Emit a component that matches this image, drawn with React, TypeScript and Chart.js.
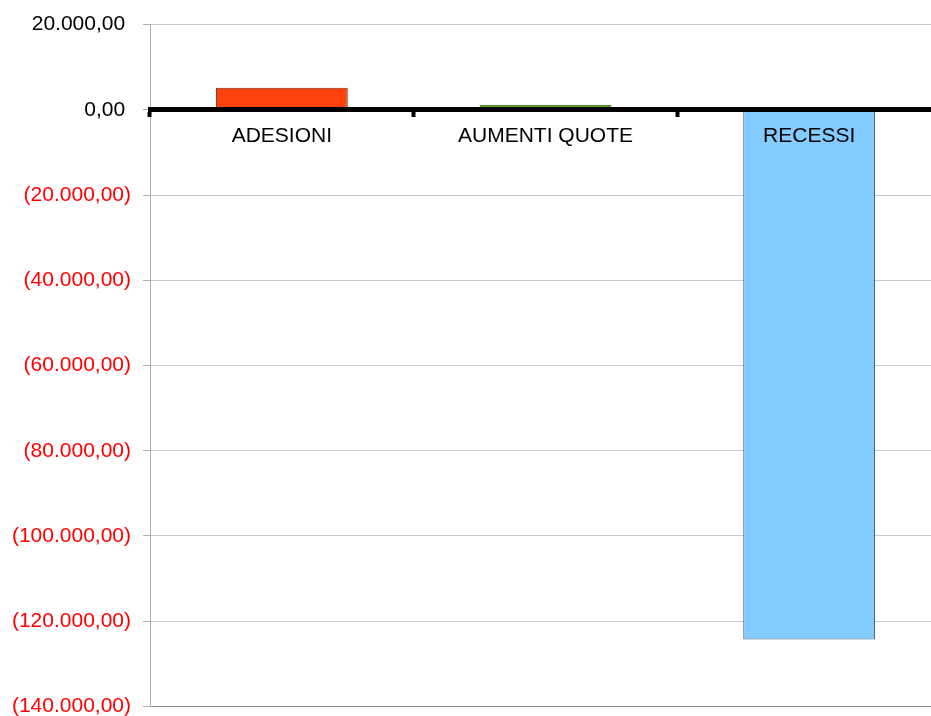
import React, { useEffect, useRef } from "react";
import { Chart, registerables } from "chart.js";

Chart.register(...registerables);

const categories = ["ADESIONI", "AUMENTI QUOTE", "RECESSI"];
const values = [5200, 1200, -124300];
const barColors = ["#ff420e", "#579d1c", "#83caff"];
const barBorders = ["#7a2a10", "#35601a", "#3d5670"];
const yMin = -140000;
const yMax = 20000;
const yStep = 20000;

function fmt(v: number): string {
  const abs = Math.abs(v).toFixed(2);
  const [intPart, dec] = abs.split(".");
  const withDots = intPart.replace(/\B(?=(\d{3})+(?!\d))/g, ".");
  const s = withDots + "," + dec;
  return v < 0 ? "(" + s + ")" : s + " ";
}

export default function App() {
  const ref = useRef<HTMLCanvasElement | null>(null);

  useEffect(() => {
    if (!ref.current) return;
    const font = { family: "'Liberation Sans', Arial, sans-serif", size: 21 };
    const chart = new Chart(ref.current, {
      type: "bar",
      data: {
        labels: categories,
        datasets: [
          {
            data: values,
            backgroundColor: barColors,
            borderColor: barBorders,
            borderWidth: 1,
            borderSkipped: false,
            categoryPercentage: 1,
            barPercentage: 0.5,
          },
        ],
      },
      options: {
        animation: false,
        responsive: false,
        maintainAspectRatio: false,
        layout: { padding: { top: 24, bottom: 0, left: 0, right: 0 } },
        plugins: { legend: { display: false }, tooltip: { enabled: false } },
        scales: {
          x: {
            position: { y: 0 } as any,
            z: 1,
            grid: {
              z: 1,
              offset: true,
              drawOnChartArea: false,
              drawTicks: true,
              tickLength: 5,
              tickWidth: 4,
              tickColor: "#000000",
            } as any,
            border: { display: true, color: "#000000", width: 5, z: 1 } as any,
            ticks: {
              z: 1,
              color: "#000000",
              font,
              padding: 9,
              maxRotation: 0,
              autoSkip: false,
            } as any,
          },
          y: {
            min: yMin,
            max: yMax,
            afterFit: (scale: any) => {
              scale.width = 150;
            },
            grid: {
              color: (ctx: any) => (ctx.tick && ctx.tick.value === yMin ? "#8a8a8a" : "#c8c8c8"),
              lineWidth: 1,
              drawTicks: true,
              tickLength: 7,
              tickColor: "#b0b0b0",
            },
            border: { display: true, color: "#b0b0b0", width: 1 },
            ticks: {
              stepSize: yStep,
              font,
              padding: 12,
              color: (ctx: any) => (ctx.tick && ctx.tick.value < 0 ? "#ff0000" : "#000000"),
              callback: (v: any) => fmt(Number(v)),
            },
          },
        },
      },
    });
    return () => chart.destroy();
  }, []);

  return (
    <div
      style={{
        position: "fixed",
        left: 0,
        top: 0,
        width: 931,
        height: 716,
        overflow: "hidden",
        background: "#ffffff",
      }}
    >
      <canvas ref={ref} width={941} height={731} style={{ width: 941, height: 731, display: "block" }} />
    </div>
  );
}
